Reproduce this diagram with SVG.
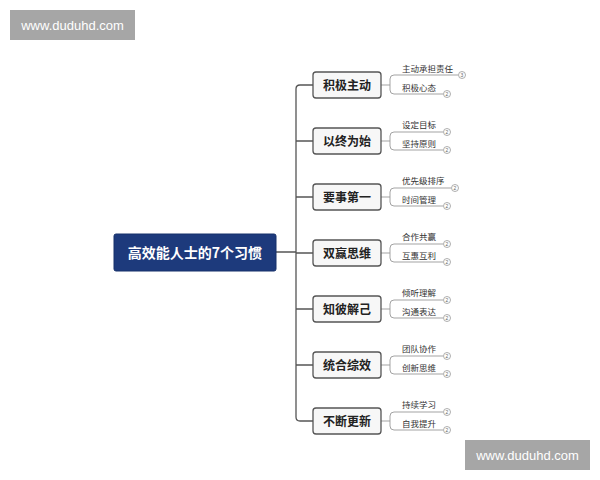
<svg xmlns="http://www.w3.org/2000/svg" width="600" height="480" viewBox="0 0 600 480">
<style>
.wm{fill:#a6a6a6}
.wmt{font-family:"Liberation Sans",Arial,sans-serif;font-size:13px;fill:#ffffff;text-anchor:middle}
.root{fill:#1d3a7c;stroke:#16306a;stroke-width:1}
.roott{font-family:"Noto Sans CJK SC",sans-serif;font-size:14px;font-weight:bold;fill:#ffffff;text-anchor:middle}
.br{fill:#f7f7f7;stroke:#555555;stroke-width:1.3}
.brt{font-family:"Noto Sans CJK SC",sans-serif;font-size:12px;font-weight:bold;fill:#222222;text-anchor:middle}
.lf{font-family:"Noto Sans CJK SC",sans-serif;font-size:8.5px;fill:#333333}
.spine{fill:none;stroke:#555555;stroke-width:1.3}
.leafl{fill:none;stroke:#999999;stroke-width:0.9}
.cir{fill:#ffffff;stroke:#999999;stroke-width:0.8}
.cn{font-family:"Liberation Sans",Arial,sans-serif;font-size:5px;fill:#666666;text-anchor:middle}
</style>
<rect width="600" height="480" fill="#ffffff"/>
<g id="connectors">
<path class="spine" d="M276,252 H296 M313,85 H300 Q296,85 296,89 V417 Q296,421 300,421 H313 M296,141 H313 M296,197 H313 M296,253 H313 M296,309 H313 M296,365 H313"/>
<path class="leafl" d="M381,85 H390 M458,75 H394 Q390,75 390,79 V90 Q390,94 394,94 H443"/>
<path class="leafl" d="M381,141 H390 M443,132 H394 Q390,132 390,136 V146 Q390,150 394,150 H443"/>
<path class="leafl" d="M381,197 H390 M451,188 H394 Q390,188 390,192 V202 Q390,206 394,206 H443"/>
<path class="leafl" d="M381,253 H390 M443,244 H394 Q390,244 390,248 V258 Q390,262 394,262 H443"/>
<path class="leafl" d="M381,309 H390 M443,300 H394 Q390,300 390,304 V314 Q390,318 394,318 H443"/>
<path class="leafl" d="M381,365 H390 M443,356 H394 Q390,356 390,360 V370 Q390,374 394,374 H443"/>
<path class="leafl" d="M381,421 H390 M443,412 H394 Q390,412 390,416 V426 Q390,430 394,430 H443"/>
</g>
<g id="watermark1"><rect class="wm" x="10" y="10" width="125" height="30"/><text class="wmt" x="72.5" y="30">www.duduhd.com</text></g>
<g id="watermark2"><rect class="wm" x="465" y="440" width="125" height="30"/><text class="wmt" x="527.5" y="460">www.duduhd.com</text></g>
<g id="root"><rect class="root" x="114" y="234" width="162" height="37" rx="2"/><text class="roott" x="195" y="257.5">高效能人士的7个习惯</text></g>
<g id="b1"><rect class="br" x="313" y="72" width="68" height="26" rx="3"/><text class="brt" x="347" y="89.5">积极主动</text></g>
<g id="b2"><rect class="br" x="313" y="128" width="68" height="26" rx="3"/><text class="brt" x="347" y="145.5">以终为始</text></g>
<g id="b3"><rect class="br" x="313" y="184" width="68" height="26" rx="3"/><text class="brt" x="347" y="201.5">要事第一</text></g>
<g id="b4"><rect class="br" x="313" y="240" width="68" height="26" rx="3"/><text class="brt" x="347" y="257.5">双赢思维</text></g>
<g id="b5"><rect class="br" x="313" y="296" width="68" height="26" rx="3"/><text class="brt" x="347" y="313.5">知彼解己</text></g>
<g id="b6"><rect class="br" x="313" y="352" width="68" height="26" rx="3"/><text class="brt" x="347" y="369.5">统合综效</text></g>
<g id="b7"><rect class="br" x="313" y="408" width="68" height="26" rx="3"/><text class="brt" x="347" y="425.5">不断更新</text></g>
<g id="l1a"><text class="lf" x="402" y="72">主动承担责任</text><circle class="cir" cx="462" cy="75" r="3.5"/><text class="cn" x="462" y="76.8">3</text></g>
<g id="l1b"><text class="lf" x="402" y="91">积极心态</text><circle class="cir" cx="447" cy="94" r="3.5"/><text class="cn" x="447" y="95.8">2</text></g>
<g id="l2a"><text class="lf" x="402" y="128">设定目标</text><circle class="cir" cx="447" cy="132" r="3.5"/><text class="cn" x="447" y="133.8">2</text></g>
<g id="l2b"><text class="lf" x="402" y="147">坚持原则</text><circle class="cir" cx="447" cy="150" r="3.5"/><text class="cn" x="447" y="151.8">2</text></g>
<g id="l3a"><text class="lf" x="402" y="184">优先级排序</text><circle class="cir" cx="455" cy="188" r="3.5"/><text class="cn" x="455" y="189.8">2</text></g>
<g id="l3b"><text class="lf" x="402" y="203">时间管理</text><circle class="cir" cx="447" cy="206" r="3.5"/><text class="cn" x="447" y="207.8">2</text></g>
<g id="l4a"><text class="lf" x="402" y="240">合作共赢</text><circle class="cir" cx="447" cy="244" r="3.5"/><text class="cn" x="447" y="245.8">2</text></g>
<g id="l4b"><text class="lf" x="402" y="259">互惠互利</text><circle class="cir" cx="447" cy="262" r="3.5"/><text class="cn" x="447" y="263.8">2</text></g>
<g id="l5a"><text class="lf" x="402" y="296">倾听理解</text><circle class="cir" cx="447" cy="300" r="3.5"/><text class="cn" x="447" y="301.8">2</text></g>
<g id="l5b"><text class="lf" x="402" y="315">沟通表达</text><circle class="cir" cx="447" cy="318" r="3.5"/><text class="cn" x="447" y="319.8">2</text></g>
<g id="l6a"><text class="lf" x="402" y="352">团队协作</text><circle class="cir" cx="447" cy="356" r="3.5"/><text class="cn" x="447" y="357.8">2</text></g>
<g id="l6b"><text class="lf" x="402" y="371">创新思维</text><circle class="cir" cx="447" cy="374" r="3.5"/><text class="cn" x="447" y="375.8">2</text></g>
<g id="l7a"><text class="lf" x="402" y="408">持续学习</text><circle class="cir" cx="447" cy="412" r="3.5"/><text class="cn" x="447" y="413.8">2</text></g>
<g id="l7b"><text class="lf" x="402" y="427">自我提升</text><circle class="cir" cx="447" cy="430" r="3.5"/><text class="cn" x="447" y="431.8">2</text></g>
</svg>
